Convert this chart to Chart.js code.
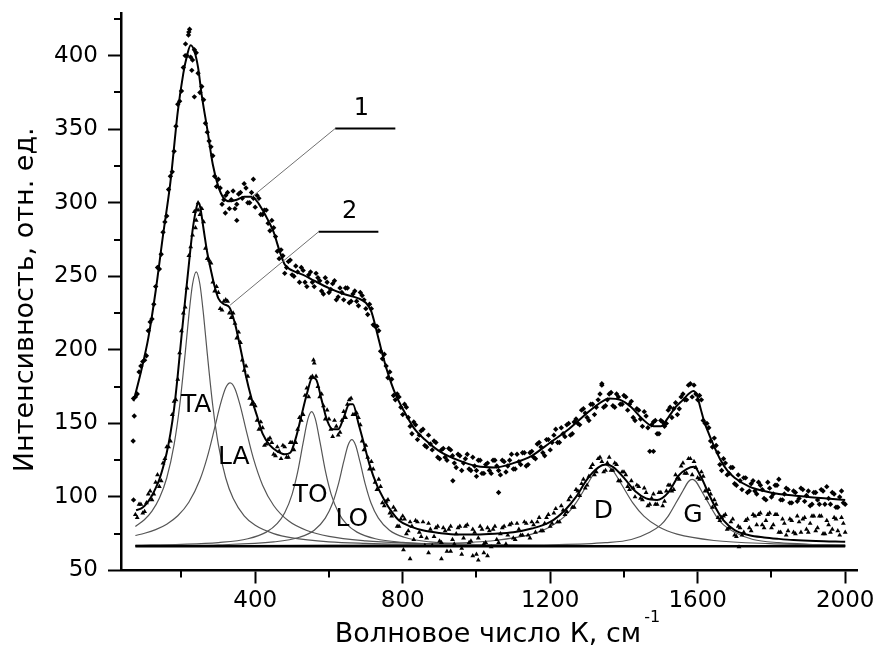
<!DOCTYPE html>
<html>
<head>
<meta charset="utf-8">
<script src="https://cdn.jsdelivr.net/npm/chart.js@4.4.0/dist/chart.umd.min.js"></script>
<style>
html,body{margin:0;padding:0;background:#fff;}
canvas{display:block;}
</style>
</head>
<body>
<canvas id="c" width="876" height="646"></canvas>
<script>
// ---------- axis ticks ----------
const xMajorTicks = [400, 800, 1200, 1600, 2000];
const xMinorTicks = [200, 600, 1000, 1400, 1800];
const yMajorTicks = [50, 100, 150, 200, 250, 300, 350, 400];
const yMinorTicks = [75, 125, 175, 225, 275, 325, 375, 425];

// ---------- sample positions (wave number, cm-1) ----------
const sampleX = [80,90,100,110,120,130,140,150,160,170,
180,190,200,210,220,230,240,250,260,270,
280,290,300,310,320,330,340,350,360,370,
380,390,400,410,420,430,440,450,460,470,
480,490,500,510,520,530,540,550,560,570,
580,590,600,610,620,630,640,650,660,670,
680,690,700,710,720,730,740,750,760,770,
780,790,800,810,820,830,840,850,860,870,
880,890,900,910,920,930,940,950,960,970,
980,990,1000,1010,1020,1030,1040,1050,1060,1070,
1080,1090,1100,1110,1120,1130,1140,1150,1160,1170,
1180,1190,1200,1210,1220,1230,1240,1250,1260,1270,
1280,1290,1300,1310,1320,1330,1340,1350,1360,1370,
1380,1390,1400,1410,1420,1430,1440,1450,1460,1470,
1480,1490,1500,1510,1520,1530,1540,1550,1560,1570,
1580,1590,1600,1610,1620,1630,1640,1650,1660,1670,
1680,1690,1700,1710,1720,1730,1740,1750,1760,1770,
1780,1790,1800,1810,1820,1830,1840,1850,1860,1870,
1880,1890,1900,1910,1920,1930,1940,1950,1960,1970,
1980,1990,2000];
const sampleXMid = [75,85,95,105,115,125,135,145,155,165,
175,185,195,205,215,225,235,245,255,265,
275,285,295,305,315,325,335,345,355,365,
375,385,395,405,415,425,435,445,455,465,
475,485,495,505,515,525,535,545,555,565,
575,585,595,605,615,625,635,645,655,665,
675,685,695,705,715,725,735,745,755,765,
775,785,795,805,815,825,835,845,855,865,
875,885,895,905,915,925,935,945,955,965,
975,985,995,1005,1015,1025,1035,1045,1055,1065,
1075,1085,1095,1105,1115,1125,1135,1145,1155,1165,
1175,1185,1195,1205,1215,1225,1235,1245,1255,1265,
1275,1285,1295,1305,1315,1325,1335,1345,1355,1365,
1375,1385,1395,1405,1415,1425,1435,1445,1455,1465,
1475,1485,1495,1505,1515,1525,1535,1545,1555,1565,
1575,1585,1595,1605,1615,1625,1635,1645,1655,1665,
1675,1685,1695,1705,1715,1725,1735,1745,1755,1765,
1775,1785,1795,1805,1815,1825,1835,1845,1855,1865,
1875,1885,1895,1905,1915,1925,1935,1945,1955,1965,
1975,1985,1995];

// ---------- spectrum 1 (measured points) ----------
const spec1Y = [170,189,193,213,221,243,255,280,291,318,
335,367,376,400,416,397,402,375,370,348,
338,318,316,299,305,296,308,299,307,313,
300,307,297,303,292,295,281,283,267,268,
252,260,251,257,246,254,243,253,243,249,
240,249,239,245,234,242,234,242,233,240,
230,237,228,231,217,216,199,197,181,180,
166,168,156,161,148,151,139,145,135,142,
132,137,126,133,125,132,123,129,118,126,
119,127,118,125,116,123,116,125,118,125,
117,125,119,129,122,130,122,131,126,137,
130,139,132,142,137,147,141,150,143,153,
149,160,154,163,156,166,176,162,170,162,
170,163,169,159,165,152,159,148,155,131,
151,143,152,148,159,154,164,160,170,166,
177,176,166,166,150,147,134,135,122,126,
115,120,109,115,105,113,104,111,102,108,
99,110,100,108,112,98,106,96,104,97,
106,97,104,95,103,95,104,107,95,102,
93,104,95];
const spec1YMid = [168,185,192,196,219,231,256,265,287,309,
321,352,369,392,400,399,404,388,379,354,
342,332,311,310,302,307,302,296,306,303,
310,300,303,305,292,295,286,288,277,262,
264,256,261,250,253,256,246,251,246,252,
247,238,246,241,247,236,239,242,232,238,
233,239,234,224,228,216,213,194,189,185,
169,170,161,163,154,143,149,142,146,134,
136,138,127,132,127,133,128,120,128,123,
129,118,121,125,116,122,118,125,121,115,
124,121,129,119,124,130,121,130,127,136,
134,128,139,137,146,137,143,149,142,151,
150,159,157,152,163,161,170,161,166,171,
161,168,163,168,163,154,160,153,158,147,
149,152,143,151,150,161,160,156,168,166,
176,168,170,169,152,150,138,140,130,118,
123,116,120,108,111,113,103,109,104,110,
105,98,106,102,108,98,102,105,96,103,
99,105,101,94,103,98,105,95,99,103,
93,100,96];
const spec1ExtraX = [70,69,70,72,219,222,211,228,235,319,350,395,936,1000,1060,1480,1340];
const spec1ExtraY = [167,138,98,155,414,418,408,390,372,293,288,316,111,114,103,131,177];

// ---------- spectrum 2 (measured points) ----------
const spec2Y = [86,95,90,102,98,110,107,123,134,138,
165,180,213,229,264,278,288,292,287,262,
259,240,239,227,234,225,225,208,205,186,
182,163,162,146,147,136,140,129,134,126,
134,127,137,137,154,156,174,181,191,175,
170,153,153,141,148,144,158,163,167,156,
154,138,135,119,119,105,107,94,98,87,
91,80,87,75,83,71,83,73,67,82,
67,79,70,79,63,80,68,79,65,80,
69,78,61,80,68,79,66,80,69,79,
68,81,72,82,74,83,74,83,76,86,
77,86,80,89,83,94,88,98,93,105,
101,112,108,120,115,126,124,118,127,118,
122,111,117,107,111,100,107,98,103,95,
102,95,103,97,108,104,115,112,123,116,
126,124,113,117,104,105,93,95,84,87,
78,83,74,80,74,84,79,88,81,89,
79,88,79,88,76,85,74,85,76,87,
76,86,76,87,77,87,75,84,76,86,
77,86,76];
const spec2YMid = [88,95,89,96,104,102,115,111,126,134,
156,166,198,225,242,270,294,295,296,269,
261,246,243,228,233,233,222,218,212,193,
189,167,164,152,151,135,139,137,128,131,
135,127,137,132,146,152,169,168,182,182,
168,162,159,146,152,142,152,154,166,156,
157,149,132,127,124,110,112,96,97,89,
93,80,85,85,77,80,84,76,83,72,
78,73,80,69,77,78,71,75,80,72,
81,70,76,72,78,69,77,78,71,75,
80,74,82,71,78,74,82,72,81,83,
77,82,88,82,92,83,91,90,100,93,
104,109,106,114,122,117,127,117,123,118,
123,111,117,115,105,106,108,99,106,94,
99,95,103,94,104,108,105,113,121,116,
126,115,120,112,114,99,102,98,86,86,
88,79,85,73,79,76,85,77,87,88,
81,84,89,81,88,76,82,77,84,75,
83,85,78,82,87,79,87,75,81,78,
85,74,82];
const spec2ExtraX = [802,820,905,930,960,990,1005,1020,1030,870,558,1712,245,238];
const spec2ExtraY = [64,58,58,63,61,60,57,62,60,62,193,66,300,283];

// ---------- fitted envelopes ----------
const fit1X = [70,90,110,130,150,170,190,205,215,225,235,245,255,270,285,300,315,330,350,370,390,405,420,435,450,465,480,500,530,560,600,640,680,700,715,730,745,760,780,800,830,860,900,950,1000,1050,1100,1150,1200,1250,1300,1330,1360,1390,1420,1450,1480,1500,1520,1540,1560,1575,1588,1598,1608,1618,1630,1645,1660,1680,1700,1740,1780,1820,1860,1900,1950,2000];
const fit1Y = [165,185,208,240,278,314,362,388,400,407,403,392,373,350,326,311,303,301,302,304,304,301,295,288,280,268,258,254,251,247,242,238,235,232,226,212,197,184,170,160,147,139,131,125,121,120,123,128,137,146,157,163,167,166,161,153,148,148,154,161,166,170,172,169,160,151,143,134,126,118,113,107,104,102,101,100,99,98];
const fit2X = [77,90,100,110,120,130,140,150,160,170,180,190,200,210,220,230,240,245,250,260,270,280,290,300,315,330,345,355,365,375,390,405,420,440,460,480,495,510,525,540,555,565,580,595,610,625,640,655,665,680,695,710,730,750,770,790,820,860,900,950,1000,1050,1100,1150,1200,1240,1270,1300,1330,1350,1370,1400,1430,1460,1490,1520,1550,1570,1590,1610,1630,1650,1670,1700,1740,1780,1820,1860,1920,2000];
const fit2Y = [91,92,94,97,101,106,112,120,130,143,160,183,209,234,258,281,296,300,298,282,266,254,243,235,231,229,218,207,195,182,167,155,143,135,131,129,130,140,155,170,181,180,166,152,146,146,154,163,163,150,136,122,108,98,90,84,80,77,75.5,74.5,74.5,75,76,78.5,83,91,100,112,120,122,120.5,113,104,99,98,103,115,119,120.5,113,102,92,84,77.5,74,72.5,71.5,70.7,70,69.5];

// ---------- deconvolution components of spectrum 2 ----------
const taX = [75,100,120,140,160,180,195,210,220,230,240,250,260,270,285,300,320,340,370,400,450,500,600,700,800,1000,1200,1500,2000];
const taY = [79.9,84.7,90.4,99.1,112.9,135.6,161.8,197.4,223.4,244.6,253,244.6,223.4,197.4,161.8,135.6,112.9,99.1,87.2,80.7,75.1,72.2,69.5,68.4,67.8,67.2,66.9,66.75,66.6];
const laX = [75,100,130,160,190,220,250,270,290,305,320,332,345,360,375,395,420,450,490,540,600,700,800,1000,1300,1600,2000];
const laY = [73.8,75.3,77.8,81.5,87.2,96.4,111.7,127.1,146.9,162.4,174.2,177.5,173.6,161.4,145.8,126.2,108,94.2,83.8,77.2,73.2,70.2,68.8,67.6,67.0,66.8,66.7];
const toX = [75,200,300,380,430,460,480,500,515,530,543,553,563,576,591,606,626,646,676,726,800,900,1100,1400,2000];
const toY = [67.2,67.8,69.0,71.6,76.1,82.0,89.3,101.8,116.8,136.9,153.1,158,153.1,136.9,116.8,101.8,89.3,82.0,76.1,71.6,69.1,67.8,67.0,66.7,66.55];
const loX = [75,300,450,520,560,590,610,625,640,652,662,672,684,699,714,734,764,804,874,1024,1300,2000];
const loY = [66.9,67.5,69.4,72.6,77.4,85.6,95.9,108.2,124,135.3,139,135.3,124,108.2,95.9,85.6,77.4,72.6,69.4,67.5,66.8,66.6];
const dX = [75,600,900,1050,1150,1200,1240,1270,1300,1325,1347,1369,1394,1424,1454,1494,1544,1644,1794,2000];
const dY = [66.7,67.2,68.3,70.4,74.7,79.7,87.0,96,108.3,118.3,122,118.3,108.3,96,87,79.7,74.7,70.4,68.3,67.4];
const gX = [75,1000,1200,1350,1420,1470,1500,1520,1540,1560,1575,1585,1595,1610,1630,1650,1670,1700,1750,1820,1900,2000];
const gY = [66.6,66.9,67.4,68.9,71.1,76,81,87,95.5,104.2,110.5,112,110.5,104.2,95.5,87,81,76,71.1,68.9,67.85,67.3];
const baselineX = [75, 2000];
const baselineY = [66.5, 66.5];

// ---------- annotations ----------
const peakNames = ['TA', 'LA', 'TO', 'LO', 'D', 'G'];
const peakNameX = [240, 342, 549, 662, 1344, 1587];
const peakNameY = [162.5, 126.5, 101.3, 85, 90.4, 87.7];
const curveNames = ['1', '2'];
const curveAnchorX = [391, 332];
const curveAnchorY = [304, 230.4];
const curveElbowX = [617, 572];
const curveElbowY = [350.5, 280.3];
const curveShelfEndX = [780, 734];
const curveNameX = [688, 656];
const curveNameY = [363.6, 293.6];

const xTitle = 'Волновое число К, см';
const xTitleSup = '-1';
const yTitle = 'Интенсивность, отн. ед.';

// ---------- build ----------
const pts = (xs, ys) => xs.map((x, i) => ({ x: x, y: ys[i] }));
const FONT = '"DejaVu Sans", "Liberation Sans", sans-serif';

const decor = {
  id: 'decor',
  afterDraw(chart) {
    const { ctx, chartArea: a } = chart;
    const xs = chart.scales.x, ys = chart.scales.y;
    ctx.save();
    // minor ticks
    ctx.strokeStyle = '#000';
    ctx.lineWidth = 2;
    ctx.beginPath();
    xMinorTicks.forEach(v => { const p = Math.round(xs.getPixelForValue(v)); ctx.moveTo(p, a.bottom); ctx.lineTo(p, a.bottom + 7); });
    yMinorTicks.forEach(v => { const p = Math.round(ys.getPixelForValue(v)); ctx.moveTo(a.left, p); ctx.lineTo(a.left - 7, p); });
    ctx.stroke();

    // curve leaders
    curveNames.forEach((t, i) => {
      const ax = xs.getPixelForValue(curveAnchorX[i]), ay = ys.getPixelForValue(curveAnchorY[i]);
      const ex = xs.getPixelForValue(curveElbowX[i]), ey = ys.getPixelForValue(curveElbowY[i]);
      const fx = xs.getPixelForValue(curveShelfEndX[i]);
      ctx.strokeStyle = '#707070'; ctx.lineWidth = 1;
      ctx.beginPath(); ctx.moveTo(ax, ay); ctx.lineTo(ex, ey); ctx.stroke();
      ctx.strokeStyle = '#000'; ctx.lineWidth = 2;
      ctx.beginPath(); ctx.moveTo(ex, ey); ctx.lineTo(fx, ey); ctx.stroke();
      ctx.fillStyle = '#000';
      ctx.font = '24px ' + FONT;
      ctx.textAlign = 'center'; ctx.textBaseline = 'middle';
      ctx.fillText(t, xs.getPixelForValue(curveNameX[i]), ys.getPixelForValue(curveNameY[i]));
    });

    // peak names
    ctx.fillStyle = '#000';
    ctx.font = '25px ' + FONT;
    ctx.textAlign = 'center'; ctx.textBaseline = 'middle';
    peakNames.forEach((t, i) => ctx.fillText(t, xs.getPixelForValue(peakNameX[i]), ys.getPixelForValue(peakNameY[i])));

    // x title with superscript
    ctx.font = '27px ' + FONT;
    ctx.textAlign = 'left'; ctx.textBaseline = 'alphabetic';
    const w = ctx.measureText(xTitle).width;
    const cx = (a.left + a.right) / 2 - 1;
    const x0 = cx - w / 2;
    ctx.fillText(xTitle, x0, 642);
    ctx.font = '16px ' + FONT;
    ctx.fillText(xTitleSup, x0 + w + 3, 622);

    // y title
    ctx.translate(33, (a.top + a.bottom) / 2 + 8);
    ctx.rotate(-Math.PI / 2);
    ctx.font = '27px ' + FONT;
    ctx.textAlign = 'center'; ctx.textBaseline = 'alphabetic';
    ctx.fillText(yTitle, 0, 0);
    ctx.restore();
  }
};

const lineDs = (xs, ys, color, width) => ({
  type: 'line', data: pts(xs, ys), borderColor: color, borderWidth: width,
  pointRadius: 0, fill: false, cubicInterpolationMode: 'monotone', showLine: true
});

new Chart(document.getElementById('c'), {
  type: 'scatter',
  data: {
    datasets: [
      lineDs(fit1X, fit1Y, '#000', 2),
      lineDs(fit2X, fit2Y, '#000', 2),
      { data: pts(sampleX, spec1Y).concat(pts(sampleXMid, spec1YMid), pts(spec1ExtraX, spec1ExtraY)),
        pointStyle: 'rectRot', pointRadius: 2.7, backgroundColor: '#000', borderColor: '#000', borderWidth: 0 },
      { data: pts(sampleX, spec2Y).concat(pts(sampleXMid, spec2YMid), pts(spec2ExtraX, spec2ExtraY)),
        pointStyle: 'triangle', pointRadius: 2.8, backgroundColor: '#000', borderColor: '#000', borderWidth: 0 },
      lineDs(baselineX, baselineY, '#000', 2.5),
      lineDs(taX, taY, '#555', 1.2),
      lineDs(laX, laY, '#555', 1.2),
      lineDs(toX, toY, '#555', 1.2),
      lineDs(loX, loY, '#555', 1.2),
      lineDs(dX, dY, '#555', 1.2),
      lineDs(gX, gY, '#555', 1.2)
    ]
  },
  options: {
    responsive: false,
    animation: false,
    devicePixelRatio: 1,
    layout: { padding: { top: 13, right: 19, left: 0, bottom: 0 } },
    plugins: { legend: { display: false }, tooltip: { enabled: false } },
    scales: {
      x: {
        type: 'linear', min: 36, max: 2032,
        afterBuildTicks: s => { s.ticks = xMajorTicks.map(v => ({ value: v })); },
        afterFit: s => { s.height = 75.5; s.paddingLeft = 0; s.paddingRight = 0; },
        grid: { drawOnChartArea: false, drawTicks: true, tickLength: 13, tickWidth: 2, tickColor: '#000' },
        border: { display: true, color: '#000', width: 2.5 },
        ticks: { color: '#000', font: { family: FONT, size: 23 }, padding: 4, maxRotation: 0, autoSkip: false, callback: v => String(v) }
      },
      y: {
        type: 'linear', min: 50, max: 429,
        afterBuildTicks: s => { s.ticks = yMajorTicks.map(v => ({ value: v })); },
        afterFit: s => { s.width = 121; s.paddingTop = 0; s.paddingBottom = 0; },
        grid: { drawOnChartArea: false, drawTicks: true, tickLength: 13, tickWidth: 2, tickColor: '#000' },
        border: { display: true, color: '#000', width: 2.5 },
        ticks: { color: '#000', font: { family: FONT, size: 23 }, padding: 10, autoSkip: false, callback: v => String(v) }
      }
    }
  },
  plugins: [decor]
});
</script>
</body>
</html>
